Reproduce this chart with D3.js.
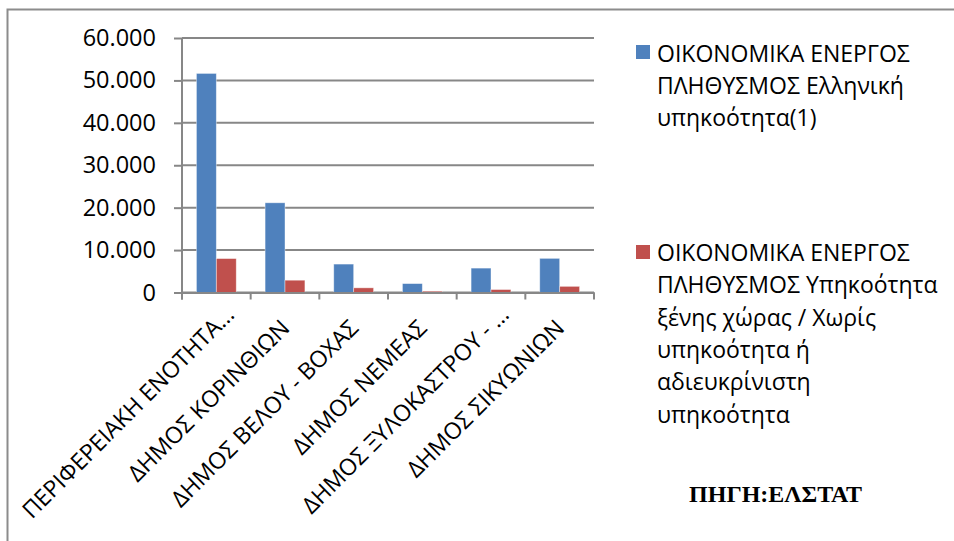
<!DOCTYPE html>
<html>
<head>
<meta charset="utf-8">
<script src="https://cdn.jsdelivr.net/npm/d3@7"></script>
<style>
  html, body { margin: 0; padding: 0; background: #fff; }
  svg { display: block; }
</style>
</head>
<body>
<svg id="chart" width="954" height="541"></svg>
<script>
// ---- data ----
const categories = [
  "ΠΕΡΙΦΕΡΕΙΑΚΗ ΕΝΟΤΗΤΑ…",
  "ΔΗΜΟΣ ΚΟΡΙΝΘΙΩΝ",
  "ΔΗΜΟΣ ΒΕΛΟΥ - ΒΟΧΑΣ",
  "ΔΗΜΟΣ ΝΕΜΕΑΣ",
  "ΔΗΜΟΣ ΞΥΛΟΚΑΣΤΡΟΥ - …",
  "ΔΗΜΟΣ ΣΙΚΥΩΝΙΩΝ"
];
const greekCitizens = [51650, 21150, 6700, 2100, 5750, 8050];
const foreignCitizens = [8000, 2900, 1100, 300, 700, 1450];
const seriesNames = ["greek", "foreign"];
const legendLinesGreek = ["ΟΙΚΟΝΟΜΙΚΑ ΕΝΕΡΓΟΣ", "ΠΛΗΘΥΣΜΟΣ Ελληνική", "υπηκοότητα(1)"];
const legendLinesForeign = ["ΟΙΚΟΝΟΜΙΚΑ ΕΝΕΡΓΟΣ", "ΠΛΗΘΥΣΜΟΣ Υπηκοότητα", "ξένης χώρας / Χωρίς", "υπηκοότητα ή", "αδιευκρίνιστη", "υπηκοότητα"];
const yTicks = [0, 10000, 20000, 30000, 40000, 50000, 60000];
const sourceText = "ΠΗΓΗ:ΕΛΣΤΑΤ";

// ---- setup ----
const svg = d3.select("#chart");
const colors = { greek: "#4F81BD", foreign: "#C0504D" };
const gridColor = "#878787";
const font = "'Open Sans', 'DejaVu Sans', sans-serif";

svg.append("rect").attr("width", 954).attr("height", 541).attr("fill", "#fff");
// outer frame
svg.append("rect")
  .attr("x", 7.5).attr("y", 9.5).attr("width", 980).attr("height", 600)
  .attr("fill", "none").attr("stroke", "#8c8c8c").attr("stroke-width", 2);

const plot = { left: 182, right: 594, top: 38, bottom: 292.5 };

const y = d3.scaleLinear().domain([0, 60000]).range([plot.bottom, plot.top]);
const x0 = d3.scaleBand().domain(categories).range([plot.left, plot.right]).padding(0);
const x1 = d3.scaleBand().domain(seriesNames)
  .range([x0.bandwidth() * 0.21, x0.bandwidth() * 0.79]).padding(0);

const locale = d3.formatLocale({ decimal: ",", thousands: ".", grouping: [3], currency: ["", "€"] });
const fmt = locale.format(",");

// gridlines + y axis
const yAxis = d3.axisLeft(y).tickValues(yTicks).tickFormat(fmt).tickSize(8).tickPadding(0);
const yG = svg.append("g").attr("transform", `translate(${plot.left},0)`).call(yAxis);
yG.select(".domain").remove();
yG.selectAll(".tick line").attr("stroke", gridColor).attr("stroke-width", 2);
yG.selectAll(".tick text")
  .attr("x", -26).attr("font-family", font).attr("font-size", 23.5).attr("fill", "#000");

svg.append("g").selectAll("line").data(yTicks).join("line")
  .attr("x1", plot.left).attr("x2", plot.right)
  .attr("y1", d => y(d)).attr("y2", d => y(d))
  .attr("stroke", gridColor).attr("stroke-width", 2);

// y axis line
svg.append("line")
  .attr("x1", plot.left).attr("x2", plot.left)
  .attr("y1", plot.top).attr("y2", plot.bottom + 7)
  .attr("stroke", gridColor).attr("stroke-width", 2);

// bars
const rows = categories.map((c, i) => ({ cat: c, greek: greekCitizens[i], foreign: foreignCitizens[i] }));
const groups = svg.append("g").selectAll("g").data(rows).join("g")
  .attr("transform", d => `translate(${x0(d.cat)},0)`);
groups.selectAll("rect").data(d => seriesNames.map(k => ({ key: k, value: d[k] }))).join("rect")
  .attr("x", d => x1(d.key))
  .attr("width", x1.bandwidth())
  .attr("y", d => y(d.value))
  .attr("height", d => y(0) - y(d.value))
  .attr("fill", d => colors[d.key])
  .attr("stroke", "rgba(255,255,255,0.5)").attr("stroke-width", 0.8);

// x axis
const xAxis = d3.axisBottom(x0).tickSize(0).tickFormat("");
const xG = svg.append("g").attr("transform", `translate(0,${plot.bottom})`).call(xAxis);
xG.select(".domain").attr("stroke", gridColor).attr("stroke-width", 2);
// tick marks at band boundaries
const boundaries = categories.map(c => x0(c)).concat([plot.right]);
svg.append("g").selectAll("line").data(boundaries).join("line")
  .attr("x1", d => d).attr("x2", d => d)
  .attr("y1", plot.bottom).attr("y2", plot.bottom + 7)
  .attr("stroke", gridColor).attr("stroke-width", 2);

// rotated category labels
svg.append("g").selectAll("text").data(categories).join("text")
  .attr("transform", d => `translate(${x0(d) + x0.bandwidth() / 2 + 6},${plot.bottom + 37}) rotate(-45)`)
  .attr("x", d => d.endsWith("…") ? 19 : 0)
  .attr("text-anchor", "end")
  .attr("font-family", font).attr("font-size", 23).attr("fill", "#000")
  .text(d => d);

// legend
function legendItem(lines, color, sqY, baseY) {
  svg.append("rect").attr("x", 636).attr("y", sqY).attr("width", 14).attr("height", 14).attr("fill", color);
  svg.append("g").selectAll("text").data(lines).join("text")
    .attr("x", 657).attr("y", (d, i) => baseY + i * 32.3)
    .attr("font-family", font).attr("font-size", 23).attr("fill", "#000")
    .text(d => d);
}
legendItem(legendLinesGreek, colors.greek, 45, 61.5);
legendItem(legendLinesForeign, colors.foreign, 245, 261);

// source
svg.append("text")
  .attr("x", 775.5).attr("y", 502).attr("text-anchor", "middle")
  .attr("font-family", "'Liberation Serif', 'Times New Roman', serif")
  .attr("font-weight", "bold").attr("font-size", 24).attr("fill", "#000")
  .text(sourceText);
</script>
</body>
</html>
